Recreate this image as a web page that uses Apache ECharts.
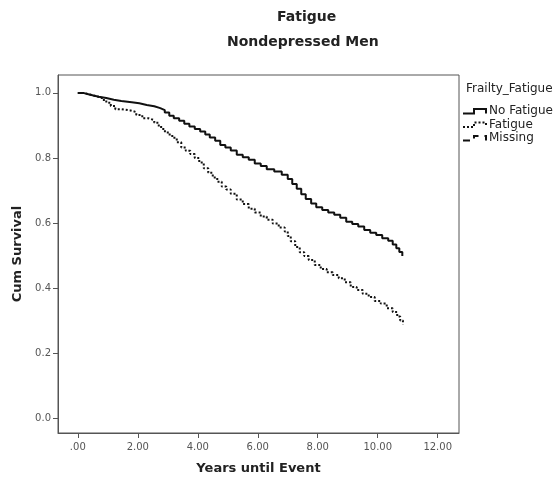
<!DOCTYPE html>
<html>
<head>
<meta charset="utf-8">
<script src="https://cdn.jsdelivr.net/npm/echarts@6/dist/echarts.min.js"></script>
<style>
    html, body { margin: 0; padding: 0; background: #fff; }
    #id-div-chart { width: 558px; height: 482px; }
</style>
</head>
<body>
<div id="id-div-chart"></div>
<script>
var log = console.log.bind(console)

var e = (selector) => document.querySelector(selector)

// 无疲劳组 (No Fatigue) 的生存曲线
var noFatigueTime = [0, 0.18, 0.35, 0.52, 0.7, 0.95, 1.2, 1.45, 1.8, 2.05, 2.3, 2.55, 2.75, 2.9, 3.05, 3.2, 3.38, 3.55, 3.72, 3.9, 4.08, 4.25, 4.4, 4.58, 4.75, 4.92, 5.1, 5.3, 5.5, 5.7, 5.9, 6.1, 6.3, 6.55, 6.8, 7.0, 7.15, 7.3, 7.45, 7.6, 7.78, 7.95, 8.15, 8.35, 8.55, 8.75, 8.95, 9.15, 9.35, 9.55, 9.75, 9.95, 10.15, 10.35, 10.5, 10.62, 10.72, 10.82]
var noFatigueSurvival = [1.0, 0.996, 0.992, 0.988, 0.984, 0.979, 0.975, 0.971, 0.968, 0.963, 0.959, 0.953, 0.947, 0.94, 0.93, 0.922, 0.914, 0.905, 0.897, 0.889, 0.881, 0.872, 0.863, 0.853, 0.84, 0.832, 0.823, 0.81, 0.802, 0.794, 0.783, 0.775, 0.765, 0.758, 0.748, 0.735, 0.72, 0.705, 0.688, 0.674, 0.66, 0.648, 0.64, 0.632, 0.625, 0.616, 0.604, 0.597, 0.589, 0.578, 0.57, 0.563, 0.553, 0.545, 0.534, 0.522, 0.511, 0.498]

// 疲劳组 (Fatigue)
var fatigueTime = [0, 0.2, 0.4, 0.6, 0.8, 0.95, 1.1, 1.25, 1.45, 1.75, 1.95, 2.15, 2.35, 2.55, 2.7, 2.85, 3.0, 3.15, 3.3, 3.45, 3.6, 3.75, 3.9, 4.05, 4.2, 4.35, 4.5, 4.65, 4.8, 4.95, 5.1, 5.3, 5.5, 5.7, 5.9, 6.1, 6.3, 6.5, 6.7, 6.9, 7.0, 7.1, 7.25, 7.4, 7.55, 7.7, 7.9, 8.1, 8.3, 8.5, 8.7, 8.9, 9.1, 9.3, 9.5, 9.7, 9.9, 10.1, 10.3, 10.5, 10.65, 10.75, 10.84]
var fatigueSurvival = [1.0, 0.995, 0.99, 0.985, 0.978, 0.97, 0.96, 0.95, 0.946, 0.941, 0.932, 0.922, 0.916, 0.908, 0.895, 0.882, 0.872, 0.862, 0.848, 0.832, 0.822, 0.812, 0.8, 0.786, 0.768, 0.754, 0.74, 0.727, 0.712, 0.703, 0.69, 0.672, 0.658, 0.644, 0.632, 0.62, 0.61, 0.598, 0.586, 0.574, 0.56, 0.544, 0.526, 0.51, 0.498, 0.486, 0.471, 0.458, 0.448, 0.44, 0.43, 0.418, 0.403, 0.394, 0.382, 0.372, 0.36, 0.352, 0.338, 0.326, 0.312, 0.3, 0.288]

// 缺失组 没有数据
var missingTime = []
var missingSurvival = []

var xTicks = [0, 2, 4, 6, 8, 10, 12]
var yTicks = [0, 0.2, 0.4, 0.6, 0.8, 1.0]

var legendTitle = 'Frailty_Fatigue'
var groupNames = ['No Fatigue', 'Fatigue', 'Missing']

var pairs = function(xs, ys) {
    var r = []
    for (var i = 0; i < xs.length; i++) {
        r.push([xs[i], ys[i]])
    }
    return r
}

var font = 'DejaVu Sans'
var axisColor = '#555'

var legendGraphic = function() {
    var g = []
    g.push({
        type: 'text', left: 466, top: 83,
        style: { text: legendTitle, font: '12px "DejaVu Sans"', fill: '#222' },
    })
    var rows = [112, 125.5, 139]
    var dashes = [null, [2, 2], [7, 6]]
    for (var i = 0; i < groupNames.length; i++) {
        var y = rows[i]
        var pts = [[463, y + 1.5], [474, y + 1.5], [474, y - 3], [486, y - 3], [486, y + 1.5]]
        g.push({
            type: 'polyline',
            shape: { points: pts },
            style: { stroke: '#111', lineWidth: 2, fill: null, lineDash: dashes[i] },
        })
        g.push({
            type: 'text', left: 489, top: y - 7,
            style: { text: groupNames[i], font: '12px "DejaVu Sans"', fill: '#222' },
        })
    }
    return g
}

var formattedOption = function() {
    var option = {
        animation: false,
        backgroundColor: '#fff',
        textStyle: { fontFamily: font },
        title: [
            {
                text: 'Fatigue', left: 277, top: 10, padding: 0,
                textStyle: { fontFamily: font, fontSize: 14, fontWeight: 'bold', color: '#222' },
            },
            {
                text: 'Nondepressed Men', left: 227, top: 35, padding: 0,
                textStyle: { fontFamily: font, fontSize: 14, fontWeight: 'bold', color: '#222' },
            },
        ],
        grid: {
            left: 58, top: 75, right: 99, bottom: 49,
            show: true, borderColor: axisColor, borderWidth: 1,
            containLabel: false,
        },
        xAxis: {
            type: 'value',
            min: -0.66,
            max: 12.71,
            name: 'Years until Event',
            nameLocation: 'middle',
            nameGap: 29,
            nameTextStyle: { fontFamily: font, fontSize: 13, fontWeight: 'bold', color: '#222' },
            axisLine: { onZero: false, lineStyle: { color: axisColor } },
            axisTick: { show: true, length: 5, customValues: xTicks, lineStyle: { color: axisColor } },
            axisLabel: {
                customValues: xTicks,
                margin: 9,
                fontFamily: font, fontSize: 10, color: '#555',
                formatter: (v) => v == 0 ? '.00' : v.toFixed(2),
            },
            splitLine: { show: false },
        },
        yAxis: {
            type: 'value',
            min: -0.046,
            max: 1.055,
            name: 'Cum Survival',
            nameLocation: 'middle',
            nameGap: 33,
            nameTextStyle: { fontFamily: font, fontSize: 13, fontWeight: 'bold', color: '#222' },
            axisLine: { show: true, onZero: false, lineStyle: { color: axisColor } },
            axisTick: { show: true, length: 5, customValues: yTicks, lineStyle: { color: axisColor } },
            axisLabel: {
                customValues: yTicks,
                margin: 7,
                fontFamily: font, fontSize: 10, color: '#555',
                formatter: (v) => v.toFixed(1),
            },
            splitLine: { show: false },
        },
        series: [
            {
                name: groupNames[0],
                type: 'line',
                step: 'end',
                symbol: 'none',
                data: pairs(noFatigueTime, noFatigueSurvival),
                lineStyle: { color: '#111', width: 2 },
            },
            {
                name: groupNames[1],
                type: 'line',
                step: 'end',
                symbol: 'none',
                data: pairs(fatigueTime, fatigueSurvival),
                lineStyle: { color: '#111', width: 2, type: [2, 2] },
            },
            {
                name: groupNames[2],
                type: 'line',
                step: 'end',
                symbol: 'none',
                data: pairs(missingTime, missingSurvival),
                lineStyle: { color: '#111', width: 2, type: [7, 6] },
            },
        ],
        graphic: legendGraphic(),
    }
    return option
}

var renderChart = function() {
    var chart = echarts.init(e('#id-div-chart'), null, { renderer: 'canvas' })
    chart.setOption(formattedOption())
}

var __main = function() {
    renderChart()
}

__main()
</script>
</body>
</html>
